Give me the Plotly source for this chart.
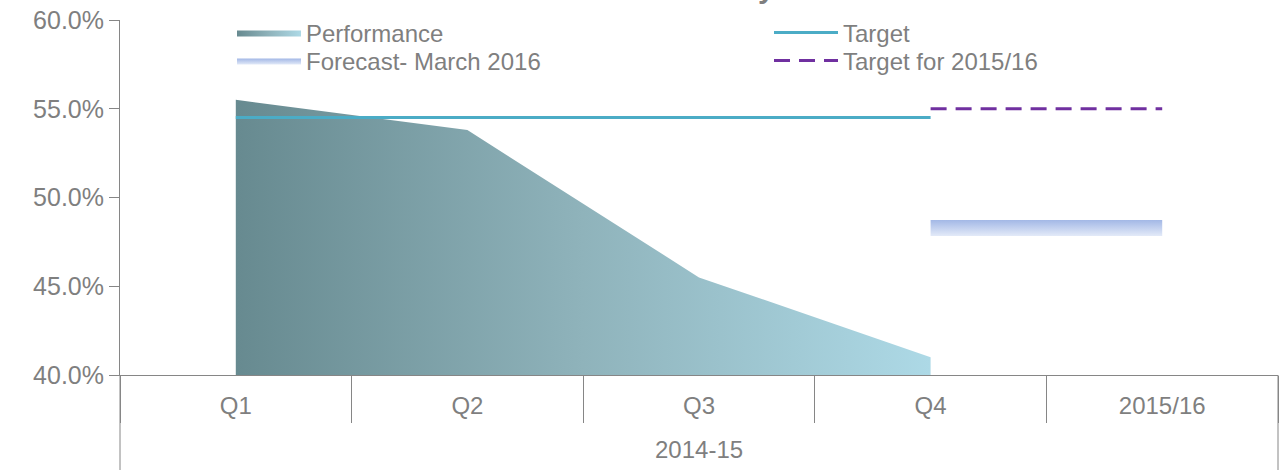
import plotly.graph_objects as go

# ---- data ----
categories = ["Q1", "Q2", "Q3", "Q4", "2015/16"]
perf_x = ["Q1", "Q2", "Q3", "Q4"]
performance = [0.555, 0.538, 0.455, 0.410]
target_x = ["Q1", "Q2", "Q3", "Q4"]
target = [0.545, 0.545, 0.545, 0.545]
target_1516_x = ["Q4", "2015/16"]
target_1516 = [0.55, 0.55]
forecast_x = ["Q4", "2015/16"]
forecast = [0.4828, 0.4828]
forecast_half_band = 0.0045
group_label = "2014-15"
title_text = "Household waste recycled"

FONT = "Liberation Sans, Arial, sans-serif"
GREY = "#7f7f7f"
AXIS = "#868686"

fig = go.Figure()

fig.add_trace(go.Scatter(
    x=perf_x, y=performance, name="Performance", mode="lines",
    line=dict(width=0, color="#8fb4bc"), fill="tozeroy",
    fillgradient=dict(type="horizontal",
                      colorscale=[[0, "#678a90"], [0.5, "#8fb3bb"], [1, "#add9e6"]]),
    hoverinfo="skip", legend="legend",
))
fig.add_trace(go.Scatter(
    x=target_x, y=target, name="Target", mode="lines",
    line=dict(width=3, color="#4bacc6"), legend="legend2",
))
lower = [v - forecast_half_band for v in forecast]
upper = [v + forecast_half_band for v in forecast]
fig.add_trace(go.Scatter(
    x=forecast_x, y=lower, mode="lines", line=dict(width=0, color="#e2e9f8"),
    showlegend=False, hoverinfo="skip",
))
fig.add_trace(go.Scatter(
    x=forecast_x, y=upper, name="Forecast- March 2016", mode="lines",
    line=dict(width=0, color="#b6c7ec"), fill="tonexty",
    fillgradient=dict(type="vertical", start=lower[0], stop=upper[0],
                      colorscale=[[0, "#e3eaf8"], [1, "#a3b8e6"]]),
    legend="legend3",
))
fig.add_trace(go.Scatter(
    x=target_1516_x, y=target_1516, name="Target for 2015/16", mode="lines",
    line=dict(width=3, color="#7030a0", dash="16px,9px"), legend="legend4",
))

def leg(xpx, ypx):
    return dict(x=(xpx - 120) / 1158, y=(375 - ypx) / 355, xanchor="left", yanchor="middle",
                orientation="v", itemwidth=64, traceorder="normal",
                font=dict(family=FONT, size=24, color=GREY),
                bgcolor="rgba(0,0,0,0)", borderwidth=0)

fig.update_layout(
    width=1280, height=470,
    margin=dict(l=120, r=2, t=20, b=95),
    paper_bgcolor="white", plot_bgcolor="white",
    font=dict(family=FONT, size=24, color=GREY),
    showlegend=True,
    legend=leg(232, 33),
    legend2=leg(769, 33),
    legend3=leg(232, 61),
    legend4=leg(769, 61),
    xaxis=dict(type="category", categoryorder="array", categoryarray=categories,
               range=[-0.5, 4.5], tickson="boundaries", ticks="outside", ticklen=47,
               tickcolor=AXIS, tickwidth=1, showline=True, linecolor=AXIS, linewidth=1,
               showgrid=False, zeroline=False, ticklabelstandoff=9, automargin=False,
               tickfont=dict(family=FONT, size=24, color=GREY)),
    yaxis=dict(range=[0.40, 0.60], dtick=0.05, tickformat=".1%", ticks="outside",
               ticklen=10, tickcolor=AXIS, showline=True, linecolor=AXIS, linewidth=1,
               showgrid=False, zeroline=False, automargin=False,
               tickfont=dict(family=FONT, size=25, color=GREY)),
)

fig.add_annotation(text=group_label, xref="paper", yref="paper", x=0.5, y=-0.211,
                   xanchor="center", yanchor="middle", showarrow=False,
                   font=dict(family=FONT, size=24, color=GREY))
fig.add_annotation(text="<b>" + title_text + "</b>", xref="paper", yref="paper",
                   x=0.455, y=1.092, xanchor="center", yanchor="middle", showarrow=False,
                   font=dict(family=FONT, size=30, color="#7f7f7f"))

for xp in (0, 1):
    fig.add_shape(type="line", xref="paper", yref="paper", x0=xp, x1=xp, y0=0, y1=-0.3,
                  line=dict(color=AXIS, width=1))

fig.write_html("out.html", config={"displayModeBar": False},
               post_script="document.body.style.margin='0';document.body.style.overflow='hidden';")
